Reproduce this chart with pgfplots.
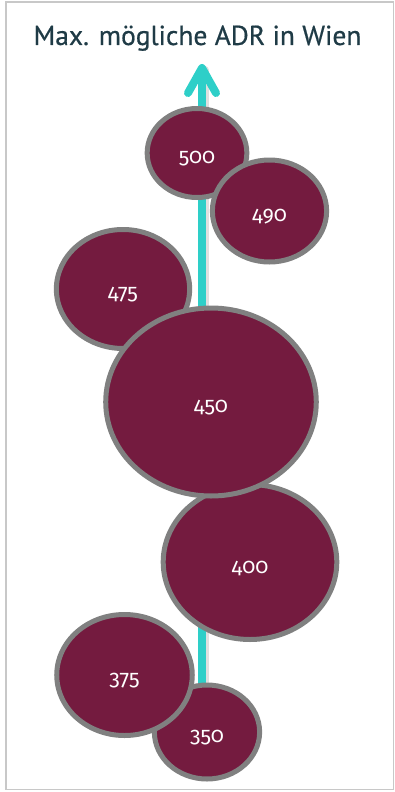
\documentclass[border=0pt]{standalone}
\usepackage{fontspec}
\usepackage{pgfplots}
\pgfplotsset{compat=1.18}
\setmainfont{PT Sans}
\newfontfamily\titlefont[FakeBold=0.6]{PT Sans}
\newfontfamily\labfont[Numbers=OldStyle]{Fira Sans}
\definecolor{maroon}{HTML}{741B3F}
\definecolor{bgray}{HTML}{808080}
\definecolor{arrowteal}{HTML}{2ECFC8}
\definecolor{titlec}{HTML}{1F3B46}
\definecolor{cardline}{HTML}{C8C8C8}

\pgfplotsset{
  bubble/.style={only marks, mark=*,
    mark options={draw=bgray, fill=maroon, line width=5pt, xscale=1.12},
    nodes near coords align=center,
    every node near coord/.append style={text=white, anchor=center, yshift=-6pt,
      font=\labfont\fontsize{21.5}{24}\selectfont}},
}

\begin{document}
\begin{tikzpicture}
\begin{axis}[
  name=main,
  scale only axis, width=394pt, height=792pt,
  xmin=0, xmax=394, ymin=0, ymax=792, y dir=reverse,
  hide axis, clip=false,
]
% card frame
\addplot[cardline, line width=1.5pt, mark=none] coordinates {(393.5,2) (6,2) (6,789.5) (393.5,789.5) (393.5,2)};
% title
\node[anchor=base, text=titlec, font=\titlefont\fontsize{27.5}{32}\selectfont] at (axis cs:197.5,45) {Max. mögliche ADR in Wien};
% arrow shadow
\addplot[black, opacity=0.12, line width=8pt, mark=none, line cap=round] coordinates {(205,720) (205,70)};
% arrow shaft and head
\addplot[arrowteal, line width=8pt, mark=none] coordinates {(202,720) (202,68)};
\addplot[arrowteal, line width=8pt, mark=none, line cap=round, line join=round] coordinates {(188,93) (202,68) (216,93)};
% bubbles (x, y pixel position; mark size = bubble radius), drawn in layering order
\addplot[bubble, mark size=44.5, nodes near coords={500}] coordinates {(197,153)};
\addplot[bubble, mark size=51,   nodes near coords={490}] coordinates {(269.5,211)};
\addplot[bubble, mark size=59.5, nodes near coords={475}] coordinates {(123,289)};
\addplot[bubble, mark size=77.5, nodes near coords={400}] coordinates {(250,562)};
\addplot[bubble, mark size=94,   nodes near coords={450}] coordinates {(211,402)};
\addplot[bubble, mark size=47,   nodes near coords={350}] coordinates {(207,732)};
\addplot[bubble, mark size=60.5, nodes near coords={375}] coordinates {(124.5,675)};
\end{axis}
\pgfresetboundingbox
\path (main.south west) rectangle (main.north east);
\end{tikzpicture}
\end{document}
